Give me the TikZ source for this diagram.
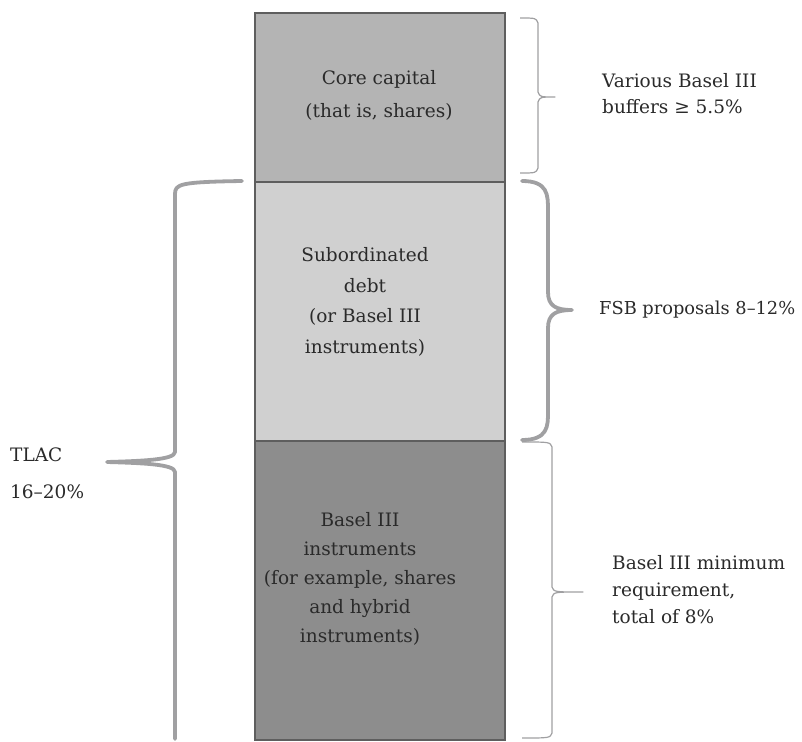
\documentclass[tikz,border=0pt]{standalone}
\usepackage{fontspec}
\setmainfont{DejaVu Serif}
\begin{document}
\begin{tikzpicture}[x=1pt,y=-1pt,
  layer/.style={draw=boxline, line width=2.2pt, anchor=north west, minimum width=250pt, inner sep=0pt},
  lbl/.style={text=txt, font=\fontsize{18.5}{29}\selectfont, inner sep=0pt},
  thinbrace/.style={draw=bracegray, line width=1.2pt, line join=round},
  thickbrace/.style={draw=bracegray, line width=3.8pt, line join=round, line cap=round}]
\definecolor{boxline}{HTML}{5E5E5E}
\definecolor{coretop}{HTML}{B4B4B4}
\definecolor{submid}{HTML}{D0D0D0}
\definecolor{baselow}{HTML}{8D8D8D}
\definecolor{bracegray}{HTML}{A0A0A2}
\definecolor{txt}{HTML}{2A2A2A}
\useasboundingbox (0,0) rectangle (802,741);

% stacked capital layers
\node[layer, fill=coretop, minimum height=169pt] (core) at (254,12) {};
\node[layer, fill=submid, minimum height=259pt] (sub) at (254,181) {};
\node[layer, fill=baselow, minimum height=299pt] (low) at (254,440) {};

% layer texts
\node[lbl, align=center, font=\fontsize{18.5}{33}\selectfont] (coretxt) at (379,95) {Core capital\\(that is, shares)};
\node[lbl, align=center, font=\fontsize{18.5}{30.5}\selectfont] (subtxt) at (365,302) {Subordinated\\debt\\(or Basel III\\instruments)};
\node[lbl, align=center] (lowtxt) at (360,579) {Basel III\\instruments\\(for example, shares\\and hybrid\\instruments)};

% right-hand braces
\draw[thinbrace] (520,18) .. controls (536,18) .. (538,23) -- (538,92)
  .. controls (540,97) .. (555,97) .. controls (540,97) .. (538,102) -- (538,168)
  .. controls (536,173) .. (520,173);
\draw[thickbrace] (522,181) .. controls (548,181) and (548,195) .. (548,210) -- (548,292)
  .. controls (548,306) and (556,310) .. (572,310) .. controls (556,310) and (548,314) .. (548,328) -- (548,412)
  .. controls (548,426) and (548,440) .. (522,440);
\draw[thinbrace] (522,442) .. controls (550,442) .. (552,447) -- (552,587)
  .. controls (554,592) .. (583,592) .. controls (554,592) .. (552,597) -- (552,733)
  .. controls (550,738) .. (522,738);

% left-hand brace
\draw[thickbrace] (242,181) .. controls (180,182) and (175,184) .. (175,194) -- (175,452)
  .. controls (175,460) and (140,461) .. (107,462) .. controls (140,463) and (175,464) .. (175,472) -- (175,739);

% brace labels
\node[lbl, align=left, anchor=west, font=\fontsize{18.5}{26}\selectfont] (buffers) at (602,94) {Various Basel III\\buffers ≥ 5.5\%};
\node[lbl, anchor=west, font=\fontsize{17.8}{26}\selectfont] (fsb) at (599,310) {FSB proposals 8–12\%};
\node[lbl, align=left, anchor=west, font=\fontsize{18.5}{27}\selectfont] (minreq) at (612,590) {Basel III minimum\\requirement,\\total of 8\%};
\node[lbl, anchor=west] (tlac) at (10,455) {TLAC};
\node[lbl, anchor=west] (tlacpct) at (10,492) {16–20\%};
\end{tikzpicture}
\end{document}
